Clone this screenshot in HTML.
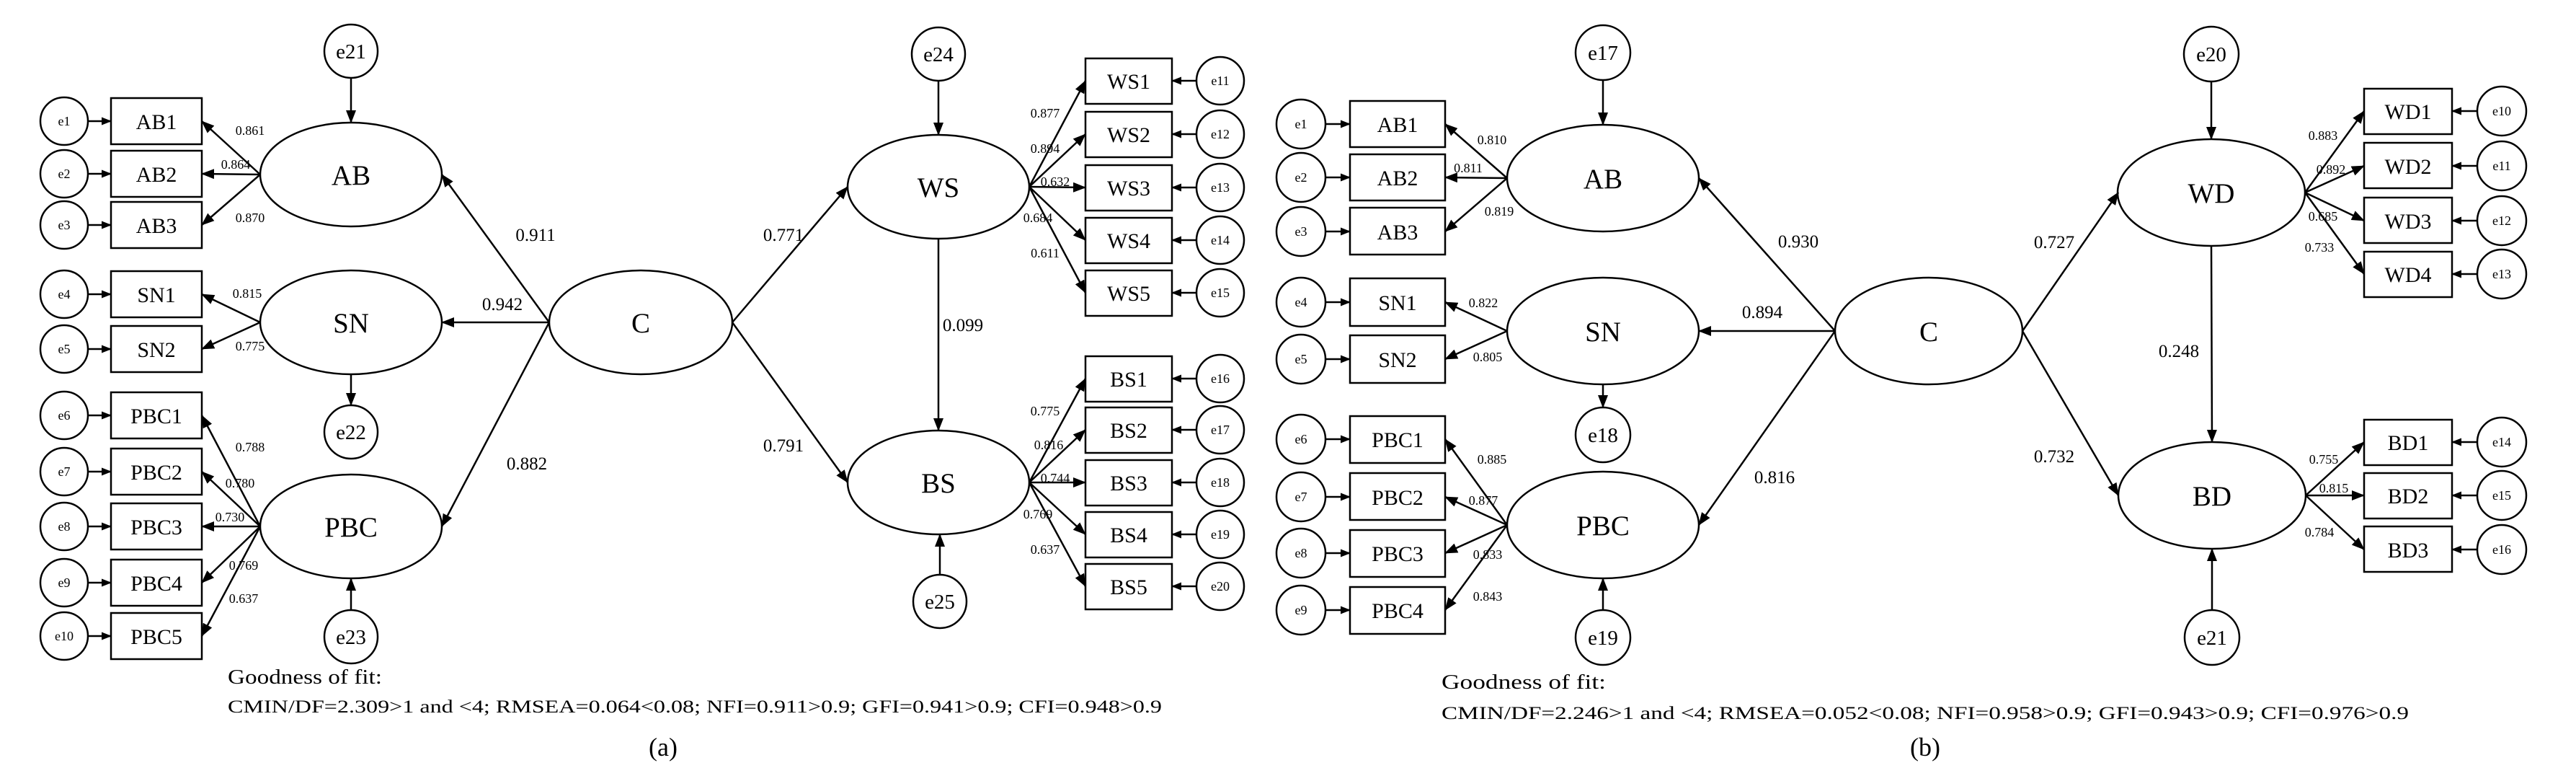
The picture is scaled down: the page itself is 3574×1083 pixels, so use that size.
<!DOCTYPE html>
<html><head><meta charset="utf-8"><style>
html,body{margin:0;padding:0;background:#fff;}
svg{display:block;}
svg text{fill:#000;font-family:"Liberation Serif","DejaVu Serif",serif;}
</style></head><body>
<svg width="3574" height="1083" viewBox="0 0 3574 1083" xmlns="http://www.w3.org/2000/svg" font-family="Liberation Serif, DejaVu Serif, serif">
<defs>
<marker id="a" markerWidth="18" markerHeight="14" refX="17" refY="7" orient="auto" markerUnits="userSpaceOnUse"><path d="M0,0 L18,7 L0,14 z" fill="#000"/></marker>
<marker id="s" markerWidth="14" markerHeight="11" refX="13" refY="5.5" orient="auto" markerUnits="userSpaceOnUse"><path d="M0,0 L14,5.5 L0,11 z" fill="#000"/></marker>
</defs>
<g fill="none" stroke="#000" stroke-width="2.5">
<rect x="154" y="136" width="126" height="64"/><rect x="154" y="209" width="126" height="64"/><rect x="154" y="280" width="126" height="64"/>
<rect x="154" y="376" width="126" height="64"/><rect x="154" y="452" width="126" height="64"/>
<rect x="154" y="544" width="126" height="64"/><rect x="154" y="622" width="126" height="64"/><rect x="154" y="698" width="126" height="64"/><rect x="154" y="776" width="126" height="64"/><rect x="154" y="850" width="126" height="64"/>
<circle cx="89" cy="168" r="33"/><circle cx="89" cy="241" r="33"/><circle cx="89" cy="312" r="33"/><circle cx="89" cy="408" r="33"/><circle cx="89" cy="484" r="33"/>
<circle cx="89" cy="576" r="33"/><circle cx="89" cy="654" r="33"/><circle cx="89" cy="730" r="33"/><circle cx="89" cy="808" r="33"/><circle cx="89" cy="882" r="33"/>
<ellipse cx="487" cy="242" rx="126" ry="72"/><ellipse cx="487" cy="447" rx="126" ry="72"/><ellipse cx="487" cy="730" rx="126" ry="72"/>
<circle cx="487" cy="71" r="37"/><circle cx="487" cy="599" r="37"/><circle cx="487" cy="883" r="37"/>
<ellipse cx="889" cy="447" rx="127" ry="72"/>
<ellipse cx="1302" cy="259" rx="126" ry="72"/><ellipse cx="1302" cy="669" rx="126" ry="72"/>
<circle cx="1302" cy="75" r="37"/><circle cx="1304" cy="834" r="37"/>
<rect x="1506" y="81" width="120" height="63"/><rect x="1506" y="155" width="120" height="63"/><rect x="1506" y="229" width="120" height="63"/><rect x="1506" y="302" width="120" height="63"/><rect x="1506" y="375" width="120" height="63"/>
<rect x="1506" y="494" width="120" height="63"/><rect x="1506" y="565" width="120" height="63"/><rect x="1506" y="638" width="120" height="63"/><rect x="1506" y="710" width="120" height="63"/><rect x="1506" y="782" width="120" height="63"/>
<circle cx="1693" cy="112" r="33"/><circle cx="1693" cy="186" r="33"/><circle cx="1693" cy="260" r="33"/><circle cx="1693" cy="333" r="33"/><circle cx="1693" cy="406" r="33"/>
<circle cx="1693" cy="525" r="33"/><circle cx="1693" cy="596" r="33"/><circle cx="1693" cy="669" r="33"/><circle cx="1693" cy="741" r="33"/><circle cx="1693" cy="813" r="33"/>
<rect x="1873" y="140" width="132" height="64"/><rect x="1873" y="214" width="132" height="64"/><rect x="1873" y="288" width="132" height="65"/>
<rect x="1873" y="386" width="132" height="66"/><rect x="1873" y="465" width="132" height="66"/>
<rect x="1873" y="577" width="132" height="65"/><rect x="1873" y="656" width="132" height="65"/><rect x="1873" y="735" width="132" height="65"/><rect x="1873" y="814" width="132" height="65"/>
<circle cx="1805" cy="172" r="34"/><circle cx="1805" cy="246" r="34"/><circle cx="1805" cy="321" r="34"/><circle cx="1805" cy="419" r="34"/><circle cx="1805" cy="498" r="34"/>
<circle cx="1805" cy="609" r="34"/><circle cx="1805" cy="689" r="34"/><circle cx="1805" cy="767" r="34"/><circle cx="1805" cy="846" r="34"/>
<ellipse cx="2224" cy="247" rx="133" ry="74"/><ellipse cx="2224" cy="459" rx="133" ry="74"/><ellipse cx="2224" cy="728" rx="133" ry="74"/>
<circle cx="2224" cy="73" r="38"/><circle cx="2224" cy="603" r="38"/><circle cx="2224" cy="884" r="38"/>
<ellipse cx="2676" cy="459" rx="130" ry="74"/>
<ellipse cx="3068" cy="267" rx="130" ry="74"/><ellipse cx="3069" cy="687" rx="130" ry="74"/>
<circle cx="3068" cy="75" r="38"/><circle cx="3069" cy="884" r="38"/>
<rect x="3280" y="123" width="122" height="63"/><rect x="3280" y="198" width="122" height="63"/><rect x="3280" y="274" width="122" height="63"/><rect x="3280" y="349" width="122" height="63"/>
<rect x="3280" y="582" width="122" height="63"/><rect x="3280" y="656" width="122" height="63"/><rect x="3280" y="730" width="122" height="63"/>
<circle cx="3471" cy="154" r="34"/><circle cx="3471" cy="230" r="34"/><circle cx="3471" cy="306" r="34"/><circle cx="3471" cy="380" r="34"/>
<circle cx="3471" cy="613" r="34"/><circle cx="3471" cy="687" r="34"/><circle cx="3471" cy="762" r="34"/>
</g>
<g fill="none" stroke="#000" stroke-width="2.5" marker-end="url(#s)">
<path d="M122,168H154"/><path d="M122,241H154"/><path d="M122,312H154"/><path d="M122,408H154"/><path d="M122,484H154"/>
<path d="M122,576H154"/><path d="M122,654H154"/><path d="M122,730H154"/><path d="M122,808H154"/><path d="M122,882H154"/>
<path d="M1660,112H1626"/><path d="M1660,186H1626"/><path d="M1660,260H1626"/><path d="M1660,333H1626"/><path d="M1660,406H1626"/>
<path d="M1660,525H1626"/><path d="M1660,596H1626"/><path d="M1660,669H1626"/><path d="M1660,741H1626"/><path d="M1660,813H1626"/>
<path d="M1839,172H1873"/><path d="M1839,246H1873"/><path d="M1839,321H1873"/><path d="M1839,419H1873"/><path d="M1839,498H1873"/>
<path d="M1839,609H1873"/><path d="M1839,689H1873"/><path d="M1839,767H1873"/><path d="M1839,846H1873"/>
<path d="M3437,154H3402"/><path d="M3437,230H3402"/><path d="M3437,306H3402"/><path d="M3437,380H3402"/>
<path d="M3437,613H3402"/><path d="M3437,687H3402"/><path d="M3437,762H3402"/>
</g>
<g fill="none" stroke="#000" stroke-width="2.5" marker-end="url(#a)">
<path d="M361,242L280,168"/><path d="M361,242L280,241"/><path d="M361,242L280,312"/>
<path d="M361,447L280,408"/><path d="M361,447L280,484"/>
<path d="M361,730L280,576"/><path d="M361,730L280,654"/><path d="M361,730L280,730"/><path d="M361,730L280,808"/><path d="M361,730L280,882"/>
<path d="M487,108V170"/><path d="M487,519V562"/><path d="M487,846V802"/>
<path d="M762,447L613,242"/><path d="M762,447L613,447"/><path d="M762,447L613,730"/>
<path d="M1016,447L1176,259"/><path d="M1016,447L1176,669"/>
<path d="M1302,112V187"/><path d="M1304,797V741"/><path d="M1302,331V597"/>
<path d="M1428,259L1506,112"/><path d="M1428,259L1506,186"/><path d="M1428,259L1506,260"/><path d="M1428,259L1506,333"/><path d="M1428,259L1506,406"/>
<path d="M1428,669L1506,525"/><path d="M1428,669L1506,596"/><path d="M1428,669L1506,669"/><path d="M1428,669L1506,741"/><path d="M1428,669L1506,813"/>
<path d="M2091,247L2005,172"/><path d="M2091,247L2005,246"/><path d="M2091,247L2005,321"/>
<path d="M2091,459L2005,419"/><path d="M2091,459L2005,498"/>
<path d="M2091,728L2005,609"/><path d="M2091,728L2005,689"/><path d="M2091,728L2005,767"/><path d="M2091,728L2005,846"/>
<path d="M2224,111V173"/><path d="M2224,533V565"/><path d="M2224,846V802"/>
<path d="M2546,459L2357,247"/><path d="M2546,459L2357,459"/><path d="M2546,459L2357,728"/>
<path d="M2806,459L2939,267"/><path d="M2806,459L2939,687"/>
<path d="M3068,113V193"/><path d="M3069,846V761"/><path d="M3068,341L3069,613"/>
<path d="M3198,267L3280,154"/><path d="M3198,267L3280,230"/><path d="M3198,267L3280,306"/><path d="M3198,267L3280,380"/>
<path d="M3199,687L3280,613"/><path d="M3199,687L3280,687"/><path d="M3199,687L3280,762"/>
</g>
<g text-anchor="middle" font-family="Liberation Serif, DejaVu Serif, serif">
<g font-size="18">
<text x="89" y="174">e1</text><text x="89" y="247">e2</text><text x="89" y="318">e3</text><text x="89" y="414">e4</text><text x="89" y="490">e5</text>
<text x="89" y="582">e6</text><text x="89" y="660">e7</text><text x="89" y="736">e8</text><text x="89" y="814">e9</text><text x="89" y="888">e10</text>
<text x="1693" y="118">e11</text><text x="1693" y="192">e12</text><text x="1693" y="266">e13</text><text x="1693" y="339">e14</text><text x="1693" y="412">e15</text>
<text x="1693" y="531">e16</text><text x="1693" y="602">e17</text><text x="1693" y="675">e18</text><text x="1693" y="747">e19</text><text x="1693" y="819">e20</text>
<text x="1805" y="178">e1</text><text x="1805" y="252">e2</text><text x="1805" y="327">e3</text><text x="1805" y="425">e4</text><text x="1805" y="504">e5</text>
<text x="1805" y="615">e6</text><text x="1805" y="695">e7</text><text x="1805" y="773">e8</text><text x="1805" y="852">e9</text>
<text x="3471" y="160">e10</text><text x="3471" y="236">e11</text><text x="3471" y="312">e12</text><text x="3471" y="386">e13</text>
<text x="3471" y="619">e14</text><text x="3471" y="693">e15</text><text x="3471" y="768">e16</text>
</g>
<g font-size="30">
<text x="217" y="179">AB1</text><text x="217" y="252">AB2</text><text x="217" y="323">AB3</text><text x="217" y="419">SN1</text><text x="217" y="495">SN2</text>
<text x="217" y="587">PBC1</text><text x="217" y="665">PBC2</text><text x="217" y="741">PBC3</text><text x="217" y="819">PBC4</text><text x="217" y="893">PBC5</text>
<text x="1566" y="123">WS1</text><text x="1566" y="197">WS2</text><text x="1566" y="271">WS3</text><text x="1566" y="344">WS4</text><text x="1566" y="417">WS5</text>
<text x="1566" y="536">BS1</text><text x="1566" y="607">BS2</text><text x="1566" y="680">BS3</text><text x="1566" y="752">BS4</text><text x="1566" y="824">BS5</text>
<text x="1939" y="183">AB1</text><text x="1939" y="257">AB2</text><text x="1939" y="332">AB3</text><text x="1939" y="430">SN1</text><text x="1939" y="509">SN2</text>
<text x="1939" y="620">PBC1</text><text x="1939" y="700">PBC2</text><text x="1939" y="778">PBC3</text><text x="1939" y="857">PBC4</text>
<text x="3341" y="165">WD1</text><text x="3341" y="241">WD2</text><text x="3341" y="317">WD3</text><text x="3341" y="391">WD4</text>
<text x="3341" y="624">BD1</text><text x="3341" y="698">BD2</text><text x="3341" y="773">BD3</text>
</g>
<g font-size="29">
<text x="487" y="81">e21</text><text x="487" y="609">e22</text><text x="487" y="893">e23</text>
<text x="1302" y="85">e24</text><text x="1304" y="844">e25</text>
<text x="2224" y="83">e17</text><text x="2224" y="613">e18</text><text x="2224" y="894">e19</text>
<text x="3068" y="85">e20</text><text x="3069" y="894">e21</text>
</g>
<g font-size="39">
<text x="487" y="256">AB</text><text x="487" y="461">SN</text><text x="487" y="744">PBC</text><text x="889" y="461">C</text>
<text x="1302" y="273">WS</text><text x="1302" y="683">BS</text>
<text x="2224" y="261">AB</text><text x="2224" y="473">SN</text><text x="2224" y="742">PBC</text><text x="2676" y="473">C</text>
<text x="3068" y="281">WD</text><text x="3069" y="701">BD</text>
</g>
<g font-size="25">
<text x="743" y="334">0.911</text><text x="697" y="430">0.942</text><text x="731" y="651">0.882</text>
<text x="1087" y="334">0.771</text><text x="1087" y="626">0.791</text><text x="1336" y="459">0.099</text>
<text x="2495" y="343">0.930</text><text x="2445" y="441">0.894</text><text x="2462" y="670">0.816</text>
<text x="2850" y="344">0.727</text><text x="2850" y="641">0.732</text><text x="3023" y="495">0.248</text>
</g>
<g font-size="18">
<text x="347" y="187">0.861</text><text x="327" y="234">0.864</text><text x="347" y="308">0.870</text><text x="343" y="413">0.815</text><text x="347" y="486">0.775</text>
<text x="347" y="626">0.788</text><text x="333" y="676">0.780</text><text x="319" y="723">0.730</text><text x="338" y="790">0.769</text><text x="338" y="836">0.637</text>
<text x="1450" y="163">0.877</text><text x="1450" y="212">0.894</text><text x="1464" y="258">0.632</text><text x="1440" y="308">0.684</text><text x="1450" y="357">0.611</text>
<text x="1450" y="576">0.775</text><text x="1455" y="623">0.816</text><text x="1464" y="669">0.744</text><text x="1440" y="719">0.769</text><text x="1450" y="768">0.637</text>
<text x="2070" y="200">0.810</text><text x="2037" y="239">0.811</text><text x="2080" y="299">0.819</text><text x="2058" y="426">0.822</text><text x="2064" y="501">0.805</text>
<text x="2070" y="643">0.885</text><text x="2058" y="700">0.877</text><text x="2064" y="775">0.833</text><text x="2064" y="833">0.843</text>
<text x="3223" y="194">0.883</text><text x="3234" y="241">0.892</text><text x="3223" y="306">0.685</text><text x="3218" y="349">0.733</text>
<text x="3224" y="643">0.755</text><text x="3238" y="683">0.815</text><text x="3218" y="744">0.784</text>
</g>
</g>
<g font-size="28" font-family="Liberation Serif, DejaVu Serif, serif">
<text x="316" y="948" textLength="214" lengthAdjust="spacingAndGlyphs">Goodness of fit:</text>
<text x="316" y="988" font-size="25" textLength="1296" lengthAdjust="spacingAndGlyphs">CMIN/DF=2.309&gt;1 and &lt;4; RMSEA=0.064&lt;0.08; NFI=0.911&gt;0.9; GFI=0.941&gt;0.9; CFI=0.948&gt;0.9</text>
<text x="2000" y="955" textLength="228" lengthAdjust="spacingAndGlyphs">Goodness of fit:</text>
<text x="2000" y="997" font-size="25" textLength="1342" lengthAdjust="spacingAndGlyphs">CMIN/DF=2.246&gt;1 and &lt;4; RMSEA=0.052&lt;0.08; NFI=0.958&gt;0.9; GFI=0.943&gt;0.9; CFI=0.976&gt;0.9</text>
<text x="900" y="1048" font-size="36">(a)</text>
<text x="2650" y="1048" font-size="36">(b)</text>
</g>
</svg>
</body></html>
